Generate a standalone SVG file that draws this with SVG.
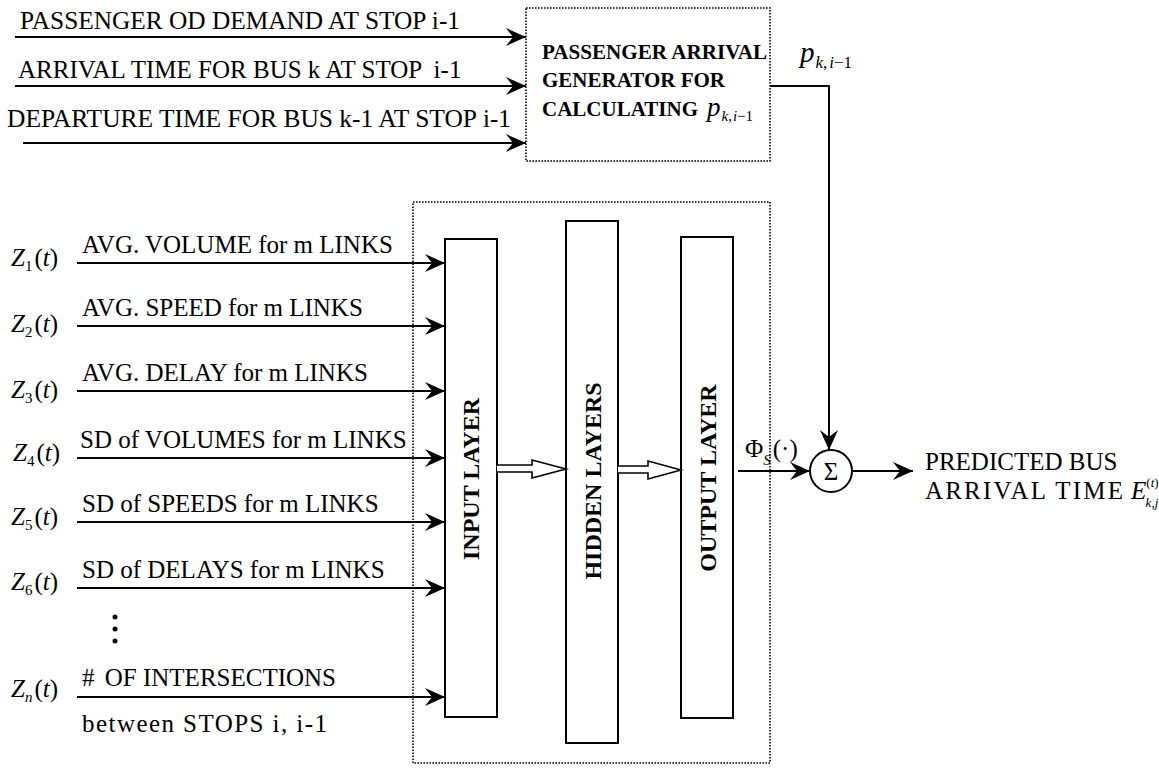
<svg xmlns="http://www.w3.org/2000/svg" width="1159" height="775" viewBox="0 0 1159 775" font-family="'Liberation Serif', Tinos, 'Times New Roman', 'DejaVu Serif', serif">
  <style>
    text { font-family: "Liberation Serif", Tinos, "Times New Roman", "DejaVu Serif", serif; fill: #000; }
    .t { font-size: 25px; }
    .bx { font-size: 21px; font-weight: bold; }
    .ly { font-size: 24px; font-weight: bold; }
    .it { font-style: italic; }
    .sub { font-size: 15px; }
    .ln { stroke: #000; stroke-width: 2; fill: none; }
    .dot { stroke: #000; stroke-width: 1.6; stroke-dasharray: 1.6 1.4; fill: none; }
    .layer { stroke: #000; stroke-width: 2; fill: #fff; }
    .hollow { stroke: #000; stroke-width: 1.6; fill: #fff; }
  </style>
  <defs>
    <marker id="ah" markerUnits="userSpaceOnUse" markerWidth="22" markerHeight="18" refX="20" refY="9" orient="auto">
      <path d="M0,0 L20,9 L0,18 L7,9 Z" fill="#000"/>
    </marker>
  </defs>
  <rect width="1159" height="775" fill="#fff"/>

  <!-- passenger arrival generator -->
  <g id="generator">
    <rect class="dot" x="526" y="8" width="244" height="153"/>
    <text class="bx" x="542" y="59" textLength="225" lengthAdjust="spacingAndGlyphs">PASSENGER ARRIVAL</text>
    <text class="bx" x="542" y="87">GENERATOR FOR</text>
    <text class="bx" x="542" y="116">CALCULATING</text>
    <text class="t" x="707" y="116"><tspan class="it" font-size="27">p</tspan><tspan class="it sub" dy="5" dx="1">k</tspan><tspan class="sub">,</tspan><tspan class="it sub" dx="1">i</tspan><tspan class="sub">−1</tspan></text>
  </g>

  <!-- generator inputs -->
  <g id="generator-inputs">
    <text class="t" x="20" y="29" textLength="440" lengthAdjust="spacingAndGlyphs">PASSENGER OD DEMAND AT STOP i-1</text>
    <text class="t" x="18" y="78">ARRIVAL TIME FOR BUS k AT STOP <tspan dx="6">i-1</tspan></text>
    <text class="t" x="7" y="127" textLength="470" lengthAdjust="spacingAndGlyphs">DEPARTURE TIME FOR BUS k-1 AT STOP</text>
    <text class="t" x="483" y="127">i-1</text>
  </g>

  <!-- neural network block -->
  <g id="network">
    <rect class="dot" x="413" y="202" width="357" height="561"/>
  </g>
  <g id="input-layer">
    <rect class="layer" x="445" y="239" width="52" height="478"/>
    <text class="ly" transform="translate(479,479) rotate(-90)" text-anchor="middle">INPUT LAYER</text>
  </g>
  <g id="hidden-layers">
    <rect class="layer" x="566" y="221" width="52" height="522"/>
    <text class="ly" transform="translate(601,481) rotate(-90)" text-anchor="middle">HIDDEN LAYERS</text>
  </g>
  <g id="output-layer">
    <rect class="layer" x="681" y="237" width="52" height="481"/>
    <text class="ly" transform="translate(716,478) rotate(-90)" text-anchor="middle">OUTPUT LAYER</text>
  </g>

  <!-- summation node -->
  <g id="sum">
    <circle cx="831" cy="471" r="21" stroke="#000" stroke-width="2" fill="#fff"/>
    <text class="t" x="831" y="480" text-anchor="middle" font-size="27">Σ</text>
  </g>

  <!-- input variables -->
  <g id="inputs">
    <text class="t" x="11" y="266"><tspan class="it">Z</tspan><tspan class="sub" dy="5">1</tspan><tspan dy="-5" dx="2">(</tspan><tspan class="it">t</tspan>)</text>
    <text class="t" x="82" y="253">AVG. VOLUME for m LINKS</text>

    <text class="t" x="11" y="332"><tspan class="it">Z</tspan><tspan class="sub" dy="5">2</tspan><tspan dy="-5" dx="2">(</tspan><tspan class="it">t</tspan>)</text>
    <text class="t" x="82" y="316">AVG. SPEED for m LINKS</text>

    <text class="t" x="11" y="398"><tspan class="it">Z</tspan><tspan class="sub" dy="5">3</tspan><tspan dy="-5" dx="2">(</tspan><tspan class="it">t</tspan>)</text>
    <text class="t" x="82" y="381">AVG. DELAY for m LINKS</text>

    <text class="t" x="13" y="461"><tspan class="it">Z</tspan><tspan class="sub" dy="5">4</tspan><tspan dy="-5" dx="2">(</tspan><tspan class="it">t</tspan>)</text>
    <text class="t" x="80" y="448">SD of VOLUMES for m LINKS</text>

    <text class="t" x="11" y="525"><tspan class="it">Z</tspan><tspan class="sub" dy="5">5</tspan><tspan dy="-5" dx="2">(</tspan><tspan class="it">t</tspan>)</text>
    <text class="t" x="82" y="512">SD of SPEEDS for m LINKS</text>

    <text class="t" x="11" y="590"><tspan class="it">Z</tspan><tspan class="sub" dy="5">6</tspan><tspan dy="-5" dx="2">(</tspan><tspan class="it">t</tspan>)</text>
    <text class="t" x="82" y="578">SD of DELAYS for m LINKS</text>

    <circle cx="115" cy="617" r="2.5"/>
    <circle cx="115" cy="629" r="2.5"/>
    <circle cx="115" cy="641" r="2.5"/>

    <text class="t" x="11" y="697"><tspan class="it">Z</tspan><tspan class="sub it" dy="5">n</tspan><tspan dy="-5" dx="2">(</tspan><tspan class="it">t</tspan>)</text>
    <text class="t" x="82" y="686"># <tspan dx="4">OF INTERSECTIONS</tspan></text>
    <text class="t" x="82" y="732" textLength="245" lengthAdjust="spacing">between STOPS i, i-1</text>
  </g>

  <!-- output -->
  <g id="result">
    <text class="t" x="925" y="470">PREDICTED BUS</text>
    <text class="t" x="925" y="499" textLength="198" lengthAdjust="spacing">ARRIVAL TIME</text>
    <text class="t" x="1131" y="499"><tspan class="it">E</tspan><tspan font-size="13" dy="-12">(</tspan><tspan font-size="13" class="it">t</tspan><tspan font-size="13">)</tspan><tspan font-size="13" class="it" dx="-13" dy="20">k</tspan><tspan font-size="13">,</tspan><tspan font-size="13" class="it">j</tspan></text>
  </g>

  <!-- edge labels -->
  <g id="labels">
    <text class="t" x="800" y="62"><tspan class="it" font-size="29">p</tspan><tspan class="it" font-size="17" dy="6" dx="1">k</tspan><tspan font-size="17">,</tspan><tspan class="it" font-size="17" dx="2">i</tspan><tspan font-size="17">−1</tspan></text>
    <text class="t" x="745" y="457">Φ<tspan class="it" font-size="15" dy="8">S</tspan><tspan dy="-8" dx="2">(·)</tspan></text>
  </g>

  <!-- connectors -->
  <g id="connectors">
    <line class="ln" x1="15" y1="37" x2="526" y2="37" marker-end="url(#ah)"/>
    <line class="ln" x1="15" y1="86" x2="526" y2="86" marker-end="url(#ah)"/>
    <line class="ln" x1="23" y1="143" x2="526" y2="143" marker-end="url(#ah)"/>

    <line class="ln" x1="77" y1="263" x2="445" y2="263" marker-end="url(#ah)"/>
    <line class="ln" x1="77" y1="326" x2="445" y2="326" marker-end="url(#ah)"/>
    <line class="ln" x1="77" y1="391" x2="445" y2="391" marker-end="url(#ah)"/>
    <line class="ln" x1="77" y1="458" x2="445" y2="458" marker-end="url(#ah)"/>
    <line class="ln" x1="77" y1="522" x2="445" y2="522" marker-end="url(#ah)"/>
    <line class="ln" x1="77" y1="588" x2="445" y2="588" marker-end="url(#ah)"/>
    <line class="ln" x1="77" y1="697" x2="445" y2="697" marker-end="url(#ah)"/>

    <path class="hollow" d="M497,465 L532,465 L532,460 L566,469 L532,478 L532,472 L497,472"/>
    <path class="hollow" d="M618,466 L648,466 L648,461 L681,470 L648,479 L648,473 L618,473"/>

    <line class="ln" x1="738" y1="471" x2="810" y2="471" marker-end="url(#ah)"/>
    <polyline class="ln" points="770,86 829,86 829,450" marker-end="url(#ah)"/>
    <line class="ln" x1="852" y1="471" x2="913" y2="471" marker-end="url(#ah)"/>
  </g>
</svg>
